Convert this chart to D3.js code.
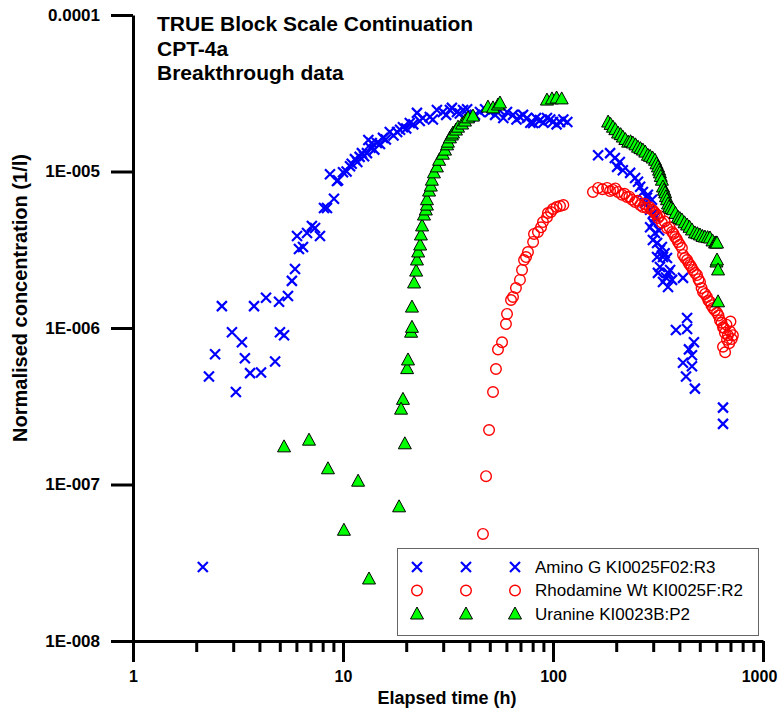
<!DOCTYPE html>
<html>
<head>
<meta charset="utf-8">
<script src="https://cdn.jsdelivr.net/npm/d3@7"></script>
<style>
  body { margin: 0; background: #fff; }
  svg { display: block; font-family: "Liberation Sans", Arial, sans-serif; }
</style>
</head>
<body>
<svg width="779" height="713"></svg>
<script>
// [elapsed time (h), normalised concentration (1/l)]
const aminoG = [
	[2.15, 2.97e-8], [2.30, 4.9e-7], [2.46, 6.8e-7], [2.65, 1.38e-6], [2.96, 9.4e-7],
	[3.09, 3.9e-7], [3.30, 8.1e-7], [3.41, 6.4e-7], [3.61, 5.15e-7], [4.07, 5.2e-7],
	[3.77, 1.38e-6], [4.30, 1.56e-6], [4.96, 1.47e-6], [4.75, 6.1e-7], [5.01, 9.4e-7],
	[5.24, 9.0e-7], [5.47, 1.60e-6], [5.71, 2.0e-6], [5.91, 2.38e-6], [6.17, 3.2e-6],
	[6.45, 3.29e-6], [6.04, 3.87e-6], [6.74, 4.05e-6], [7.11, 4.49e-6], [7.36, 4.36e-6],
	[7.77, 3.87e-6], [8.12, 5.85e-6], [8.39, 5.85e-6], [9.06, 6.7e-6], [8.67, 9.6e-6],
	[9.36, 8.7e-6], [9.47, 8.8e-6], [10.0, 9.9e-6], [10.4, 1.0e-5], [10.8, 1.08e-5],
	[11.0, 1.12e-5], [11.4, 1.2e-5], [11.7, 1.15e-5], [12.0, 1.24e-5], [12.3, 1.31e-5],
	[12.6, 1.25e-5], [13.0, 1.31e-5], [13.2, 1.59e-5], [13.5, 1.42e-5], [13.7, 1.52e-5],
	[14.1, 1.38e-5], [14.5, 1.52e-5], [15.0, 1.5e-5], [15.5, 1.64e-5], [16.0, 1.6e-5],
	[16.7, 1.79e-5], [17.4, 1.7e-5], [18.1, 1.79e-5], [18.7, 1.85e-5], [19.3, 1.92e-5],
	[20.0, 1.88e-5], [20.8, 2.04e-5], [21.6, 2.0e-5], [22.5, 2.37e-5], [23.2, 2.1e-5],
	[24.0, 2.2e-5], [25.9, 2.23e-5], [26.8, 2.15e-5], [28.0, 2.47e-5], [29.9, 2.4e-5],
	[31.0, 2.3e-5], [32.3, 2.47e-5], [33.0, 2.55e-5], [34.9, 2.4e-5], [36.0, 2.35e-5],
	[37.3, 2.47e-5], [39.0, 2.5e-5], [40.3, 2.23e-5], [42.5, 2.3e-5], [44.9, 2.4e-5],
	[47.5, 2.5e-5], [50.1, 2.4e-5], [53.0, 2.3e-5], [55.9, 2.45e-5], [58.0, 2.2e-5],
	[60.4, 2.4e-5], [64.5, 2.3e-5], [67.0, 2.15e-5], [69.6, 2.23e-5], [72.0, 2.3e-5],
	[75.2, 2.2e-5], [78.0, 2.05e-5], [80.4, 2.04e-5], [83.0, 2.2e-5], [86.7, 2.13e-5],
	[90.0, 2.05e-5], [93.6, 2.2e-5], [97.0, 2.15e-5], [100, 2.07e-5], [104, 2.0e-5],
	[108, 2.07e-5], [112, 2.15e-5], [117, 2.07e-5],
	[164, 1.27e-5], [187, 1.31e-5], [197, 1.22e-5], [208, 1.15e-5], [202, 1.07e-5],
	[215, 1.02e-5], [233, 9.8e-6], [246, 9.1e-6], [254, 8.6e-6], [260, 8.0e-6],
	[268, 7.4e-6], [280, 6.8e-6], [283, 7.1e-6], [296, 6.6e-6], [274, 6.3e-6],
	[290, 5.7e-6], [300, 5.4e-6], [306, 5.1e-6], [299, 4.7e-6], [290, 4.4e-6],
	[320, 4.2e-6], [306, 4.05e-6], [299, 3.65e-6], [313, 3.49e-6], [330, 3.29e-6],
	[323, 3.15e-6], [340, 3.0e-6], [334, 2.84e-6], [313, 2.84e-6], [349, 2.80e-6],
	[323, 2.45e-6], [361, 2.35e-6], [316, 2.25e-6], [353, 2.25e-6], [345, 2.1e-6],
	[369, 2.03e-6], [334, 1.97e-6], [353, 1.83e-6], [416, 2.09e-6],
	[435, 1.16e-6], [385, 9.7e-7], [435, 9.85e-7], [469, 8.1e-7], [444, 7.3e-7],
	[459, 6.7e-7], [416, 6.0e-7], [459, 5.7e-7], [430, 4.9e-7], [474, 4.1e-7],
	[645, 3.1e-7], [645, 2.44e-7]
];

const rhodamine = [
	[46.4, 4.83e-8], [48.0, 1.13e-7], [49.6, 2.23e-7], [51.8, 3.9e-7], [53.5, 5.47e-7],
	[54.7, 7.3e-7], [57.2, 8.1e-7], [59.7, 1.06e-6], [60.4, 1.23e-6], [63.1, 1.51e-6],
	[64.5, 1.58e-6], [66.6, 1.80e-6], [69.6, 2.03e-6], [71.2, 2.35e-6], [72.8, 2.72e-6],
	[74.4, 2.84e-6], [76.0, 3.06e-6], [80.4, 3.55e-6], [81.2, 3.99e-6], [84.8, 4.1e-6],
	[87.7, 4.4e-6], [89.6, 4.75e-6], [93.6, 5.1e-6], [94.6, 5.43e-6], [97.8, 5.51e-6],
	[100, 5.76e-6], [104, 5.93e-6], [108, 6.02e-6], [112, 6.1e-6],
	[155, 7.4e-6], [164, 7.85e-6], [172, 7.7e-6], [181, 7.85e-6], [187, 7.5e-6],
	[193, 7.62e-6], [198, 7.8e-6], [204, 7.4e-6], [213, 7.1e-6], [219, 7.2e-6],
	[225, 6.87e-6], [231, 6.9e-6], [238, 6.6e-6], [246, 6.38e-6], [253, 6.5e-6],
	[260, 6.1e-6], [268, 5.93e-6], [274, 6.2e-6], [280, 5.85e-6], [288, 5.9e-6],
	[296, 5.7e-6], [301, 5.6e-6], [306, 5.43e-6], [311, 5.3e-6], [316, 5.05e-6],
	[322, 5.2e-6], [330, 4.7e-6], [340, 4.8e-6], [349, 4.36e-6], [359, 4.4e-6],
	[369, 4.1e-6], [375, 4.0e-6], [381, 3.81e-6], [388, 3.7e-6], [394, 3.55e-6],
	[402, 3.4e-6], [411, 3.24e-6], [416, 2.93e-6], [425, 2.8e-6], [435, 2.72e-6],
	[442, 2.6e-6], [449, 2.53e-6], [456, 2.45e-6], [464, 2.35e-6], [475, 2.25e-6],
	[485, 2.18e-6], [493, 2.05e-6], [501, 1.97e-6], [510, 1.8e-6], [518, 1.70e-6],
	[530, 1.65e-6], [541, 1.58e-6], [550, 1.5e-6], [559, 1.47e-6], [568, 1.4e-6],
	[578, 1.34e-6], [590, 1.3e-6], [604, 1.25e-6], [614, 1.2e-6], [624, 1.12e-6],
	[635, 1.08e-6], [645, 1.01e-6], [652, 1.0e-6], [659, 9.3e-7], [670, 1.05e-6],
	[674, 8.4e-7], [680, 9.0e-7], [690, 8.0e-7], [697, 9.5e-7], [700, 1.1e-6],
	[710, 8.5e-7], [719, 9.0e-7], [645, 7.6e-7], [660, 7.0e-7]
];

const uranine = [
	[5.24, 1.74e-7], [6.89, 1.92e-7], [8.48, 1.26e-7], [10.1, 5.1e-8], [11.8, 1.05e-7],
	[13.3, 2.49e-8], [18.5, 7.2e-8], [19.3, 3.5e-7], [18.9, 3.03e-7], [19.7, 1.82e-7],
	[20.2, 5.5e-7], [20.4, 6.25e-7], [21.1, 9.4e-7], [21.3, 1.01e-6], [21.3, 1.36e-6],
	[21.8, 1.94e-6], [22.3, 2.31e-6], [22.5, 2.72e-6], [22.8, 3.06e-6], [23.3, 3.39e-6],
	[23.5, 3.93e-6], [23.8, 4.49e-6], [24.3, 5.27e-6], [24.8, 5.68e-6], [25.1, 6.1e-6],
	[25.1, 6.6e-6], [25.7, 7.5e-6], [26.2, 8.07e-6], [26.5, 8.8e-6], [27.1, 9.8e-6],
	[28.0, 1.07e-5], [28.7, 1.18e-5], [29.9, 1.29e-5], [30.6, 1.37e-5], [31.3, 1.48e-5],
	[31.6, 1.54e-5], [32.3, 1.64e-5], [33.0, 1.71e-5], [33.4, 1.76e-5], [34.5, 1.84e-5],
	[35.3, 1.92e-5], [36.9, 2.01e-5], [38.1, 2.10e-5], [39.4, 2.2e-5], [41.6, 2.26e-5],
	[49.0, 2.58e-5], [51.8, 2.55e-5], [54.7, 2.66e-5], [55.9, 2.74e-5],
	[93.6, 2.86e-5], [98.9, 2.91e-5], [104, 2.95e-5], [110, 2.91e-5],
	[183, 2.07e-5], [188, 2.0e-5], [193, 1.92e-5], [198, 1.85e-5], [204, 1.76e-5],
	[210, 1.72e-5], [215, 1.66e-5], [221, 1.6e-5], [228, 1.54e-5], [234, 1.55e-5],
	[240, 1.52e-5], [247, 1.48e-5], [254, 1.43e-5], [261, 1.40e-5], [268, 1.37e-5],
	[275, 1.33e-5], [283, 1.27e-5], [290, 1.25e-5], [298, 1.22e-5], [306, 1.18e-5],
	[311, 1.12e-5], [316, 1.07e-5], [320, 1.02e-5], [323, 9.8e-6], [326, 9.3e-6],
	[330, 8.8e-6], [334, 7.96e-6], [338, 7.6e-6], [342, 7.3e-6], [345, 6.9e-6],
	[349, 6.6e-6], [353, 6.2e-6], [357, 5.93e-6], [365, 5.8e-6], [373, 5.7e-6],
	[383, 5.4e-6], [394, 5.1e-6], [402, 5.0e-6], [411, 4.9e-6], [423, 4.7e-6],
	[435, 4.55e-6], [447, 4.4e-6], [459, 4.23e-6], [474, 4.05e-6], [487, 4.0e-6],
	[501, 3.93e-6], [515, 3.85e-6], [529, 3.81e-6], [545, 3.78e-6], [559, 3.76e-6],
	[575, 3.6e-6], [591, 3.49e-6], [598, 3.5e-6], [604, 3.49e-6], [600, 2.64e-6],
	[604, 2.72e-6], [611, 2.35e-6], [611, 1.47e-6]
];

const seriesNames = ["Amino G KI0025F02:R3", "Rhodamine Wt KI0025F:R2", "Uranine KI0023B:P2"];
const titleLines = ["TRUE Block Scale Continuation", "CPT-4a", "Breakthrough data"];
const xMajorTicks = [1, 10, 100, 1000];
const yTicks = [1e-4, 1e-5, 1e-6, 1e-7, 1e-8];
const yTickLabels = ["0.0001", "1E-005", "1E-006", "1E-007", "1E-008"];

window.onload = () => {

	const svg = d3.select("svg");
	const margin = { top: 15, right: 16, bottom: 72, left: 133 };
	const width = +svg.attr("width");
	const height = +svg.attr("height");

	const xScale = d3.scaleLog()
		.domain([1, 1000])
		.range([margin.left, width - margin.right]);

	const yScale = d3.scaleLog()
		.domain([1e-8, 1e-4])
		.range([height - margin.bottom, margin.top]);

	// minor ticks 2..9 in every decade
	const xMinorTicks = [];
	xMajorTicks.slice(0, -1).forEach(d => {
		for (let k = 2; k <= 9; k++) xMinorTicks.push(d * k);
	});

	const axisY0 = height - margin.bottom;

	// x axis, minor ticks first
	svg.append("g")
		.attr("transform", `translate(0,${axisY0})`)
		.call(d3.axisBottom(xScale).tickValues(xMinorTicks).tickSize(11).tickFormat(""))
		.call(g => g.select(".domain").remove());

	const gx = svg.append("g")
		.attr("transform", `translate(0,${axisY0})`)
		.call(d3.axisBottom(xScale).tickValues(xMajorTicks).tickSize(21).tickSizeOuter(0)
			.tickPadding(9).tickFormat(d3.format("d")));

	const gy = svg.append("g")
		.attr("transform", `translate(${margin.left},0)`)
		.call(d3.axisLeft(yScale).tickValues(yTicks).tickSize(22).tickSizeOuter(0)
			.tickPadding(11).tickFormat((d, i) => yTickLabels[i]));

	svg.selectAll(".tick line, .domain")
		.attr("stroke", "#000")
		.attr("stroke-width", 3);

	[gx, gy].forEach(g => g.selectAll("text")
		.attr("font-family", "'Liberation Sans', Arial, sans-serif")
		.attr("font-size", 17)
		.attr("font-weight", "bold")
		.attr("fill", "#000"));

	// keep the last x label inside the picture
	gx.selectAll(".tick text")
		.attr("font-size", 16)
		.filter(d => d === 1000)
		.attr("dx", -4);

	// axis titles
	svg.append("text")
		.attr("x", 447)
		.attr("y", 704)
		.attr("text-anchor", "middle")
		.attr("font-size", 18)
		.attr("font-weight", "bold")
		.text("Elapsed time (h)");

	svg.append("text")
		.attr("transform", "rotate(-90)")
		.attr("x", -298)
		.attr("y", 27)
		.attr("text-anchor", "middle")
		.attr("font-size", 20)
		.attr("font-weight", "bold")
		.text("Normalised concentration (1/l)");

	// chart title, three lines
	svg.append("g").selectAll("text")
		.data(titleLines)
		.enter()
		.append("text")
		.attr("x", 157)
		.attr("y", (d, i) => 31 + i * 24.5)
		.attr("font-size", 21)
		.attr("font-weight", "bold")
		.text(d => d);

	// marker shapes
	const crossPath = "M-5,-5L5,5M-5,5L5,-5";
	const triPath = "M0,-7L6.5,5L-6.5,5Z";

	function drawCross(sel) {
		sel.append("path").attr("d", crossPath)
			.attr("fill", "none").attr("stroke", "#0000ff").attr("stroke-width", 2.2);
	}
	function drawCircle(sel) {
		sel.append("circle").attr("r", 5.3)
			.attr("fill", "none").attr("stroke", "#ff0000").attr("stroke-width", 1.4);
	}
	function drawTriangle(sel) {
		sel.append("path").attr("d", triPath)
			.attr("fill", "#00ff00").attr("stroke", "#000").attr("stroke-width", 1);
	}

	const drawers = [drawCross, drawCircle, drawTriangle];
	const allSeries = [aminoG, rhodamine, uranine];

	allSeries.forEach((data, s) => {
		svg.append("g").selectAll("g")
			.data(data)
			.enter()
			.append("g")
			.attr("transform", d => `translate(${xScale(d[0])},${yScale(d[1])})`)
			.call(drawers[s]);
	});

	// legend
	const legend = svg.append("g");
	legend.append("rect")
		.attr("x", 397.5).attr("y", 548.5)
		.attr("width", 361).attr("height", 87)
		.attr("fill", "#fff")
		.attr("stroke", "#666")
		.attr("stroke-width", 1);

	seriesNames.forEach((name, i) => {
		const y = 567 + i * 23.5;
		[417, 466, 515].forEach(x => {
			legend.append("g").attr("transform", `translate(${x},${y})`).call(drawers[i]);
		});
		legend.append("text")
			.attr("x", 535)
			.attr("y", y)
			.attr("dy", "0.35em")
			.attr("font-size", 17)
			.text(name);
	});
};
</script>
</body>
</html>
